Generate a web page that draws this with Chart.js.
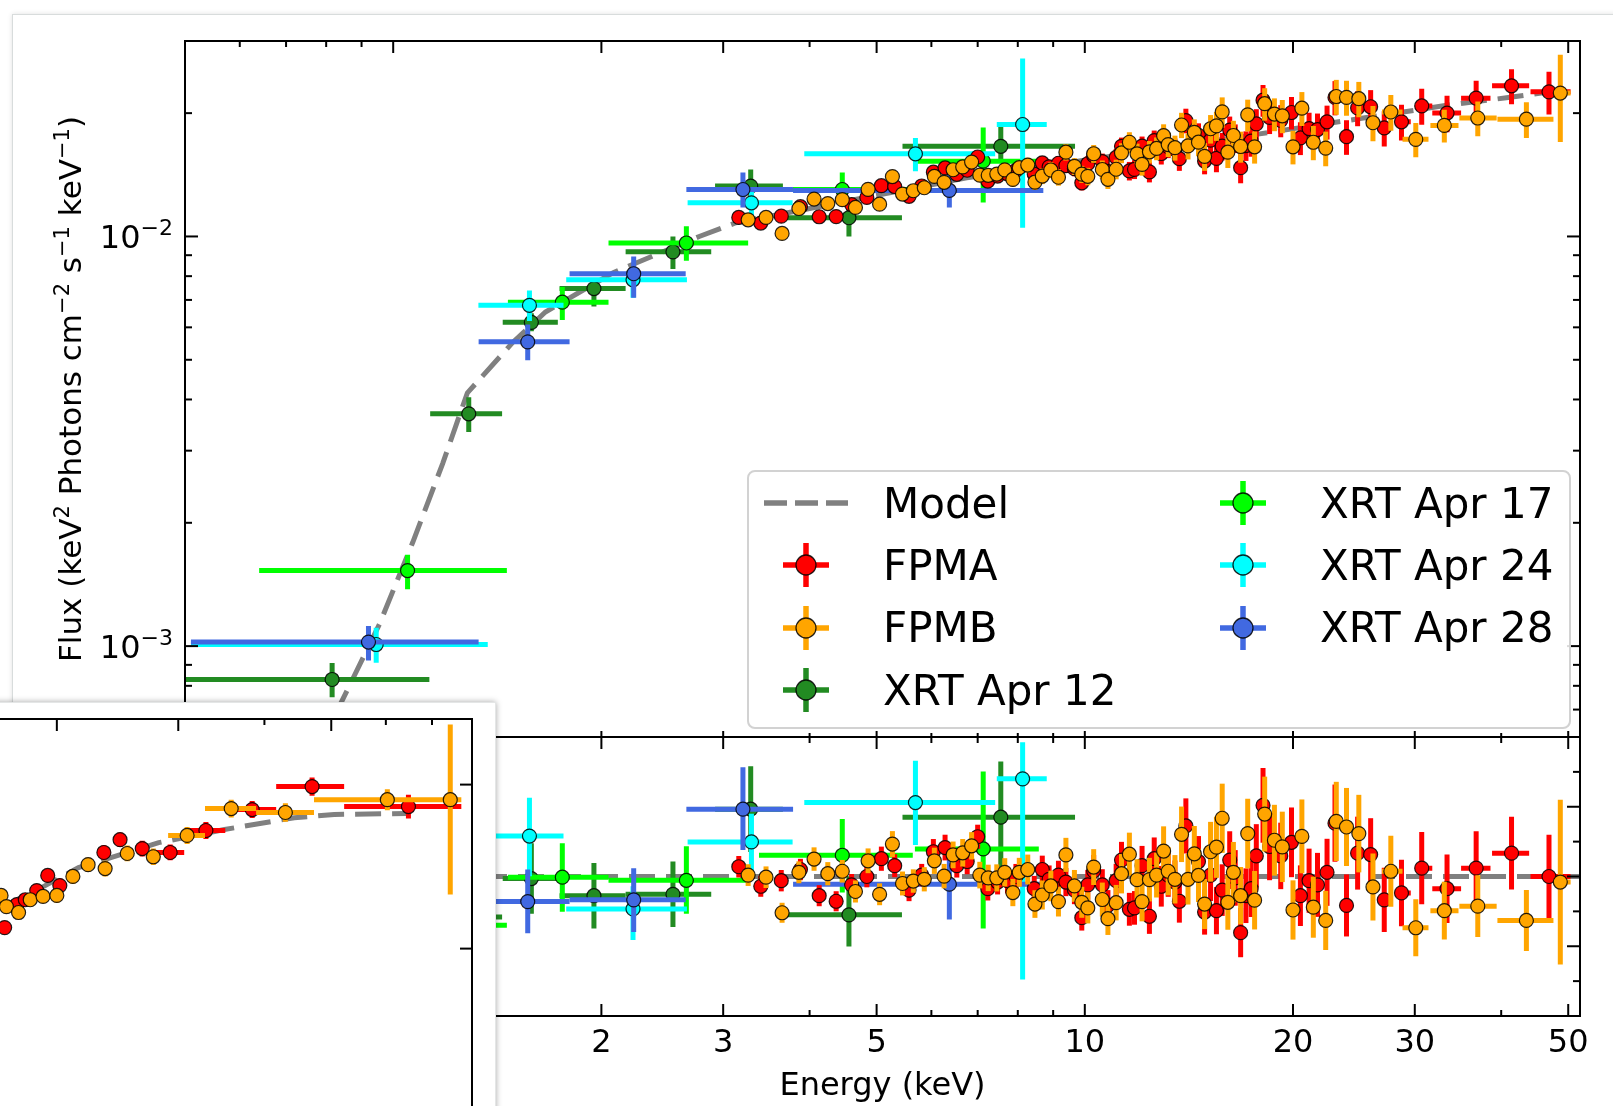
<!DOCTYPE html>
<html>
<head>
<meta charset="utf-8">
<script src="https://cdn.jsdelivr.net/npm/chart.js@4.4.1/dist/chart.umd.min.js"></script>
<style>
  html, body { margin: 0; padding: 0; width: 1613px; height: 1106px; overflow: hidden; background: #ffffff; }
  body { position: relative; font-family: "DejaVu Sans", sans-serif; }
  #win { position: absolute; left: 12px; top: 14px; width: 1660px; height: 1160px; background: #fff;
         border: 1px solid #d8dcdc; box-shadow: 0 0 5px rgba(0,0,0,0.12); }
  canvas { position: absolute; }
  #spec { left: 0; top: 0; z-index: 1; }
  #ratio { left: 0; top: 737px; z-index: 1; }
  #legend { position: absolute; left: 747px; top: 470px; width: 820px; height: 255px; z-index: 2;
            border: 2px solid #d2d2d2; border-radius: 8px; background: rgba(255,255,255,0.85); }
  .lg { position: absolute; z-index: 3; }
  .lgText { position: absolute; z-index: 3; font-size: 42px; line-height: 50px; color: #000; white-space: nowrap; }
  #inset { position: absolute; left: -400px; top: 702px; width: 894px; height: 520px; background: #fff; z-index: 5;
           border: 1px solid #e4e6e6; box-shadow: 0 0 6px rgba(0,0,0,0.35); }
  #insetChart { left: 140px; top: 1px; }
</style>
</head>
<body>
<div id="win"></div>
<canvas id="spec" width="1613" height="737"></canvas>
<canvas id="ratio" width="1613" height="369"></canvas>
<div id="legend"></div>
<div id="inset"><canvas id="insetChart" width="752" height="520"></canvas></div>

<script>
// ---- axis ticks ----
const xMajorTicks = [1, 2, 3, 5, 10, 20, 30, 50];
const xTickLabels = ['1', '2', '3', '5', '10', '20', '30', '50'];
const xMinorTicks = [0.5, 0.6, 0.7, 0.8, 0.9, 4, 6, 7, 8, 9, 40];
const fluxMajorTicks = [1e-3, 1e-2];
const fluxTickExponents = ['−3', '−2'];
const fluxMinorTicks = [6e-4, 7e-4, 8e-4, 9e-4, 2e-3, 3e-3, 4e-3, 5e-3, 6e-3, 7e-3, 8e-3, 9e-3, 2e-2, 3e-2];
const ratioMajorTicks = [0.8, 1.0, 1.2];
const ratioTickLabels = ['0.8', '1.0', '1.2'];
const ratioMinorTicks = [0.7, 0.9, 1.1, 1.3];

// y title as [text, isSuperscript] runs
const fluxTitleRuns = [['Flux (keV', false], ['2', true], [' Photons cm', false], ['−2', true],
  [' s', false], ['−1', true], [' keV', false], ['−1', true], [')', false]];

// ---- best-fit model ----
const modelEnergy = [0.70, 0.845, 0.955, 1.067, 1.179, 1.28, 1.49, 1.66, 2.08, 2.77, 3.13, 4.0, 5.0, 6.75, 10.0, 17.9, 25.0, 34.0, 40.7, 49.3];
const modelFlux = [3.9e-4, 7.4e-4, 1.13e-3, 1.79e-3, 2.79e-3, 4.15e-3, 5.52e-3, 6.54e-3, 8.16e-3, 1.0e-2, 1.08e-2, 1.17e-2, 1.26e-2, 1.39e-2, 1.535e-2, 1.78e-2, 1.94e-2, 2.1e-2, 2.18e-2, 2.28e-2];
const ratioModelEnergy = [0.5, 52];
const ratioModelValue = [1, 1];

// ---- NuSTAR FPMA ----
const fpmaEnergy = [3.16, 3.40, 3.64, 3.88, 4.13, 4.37, 4.60, 4.84, 5.08, 5.31,
  5.57, 5.81, 6.04, 6.28, 6.53, 6.76, 7.00, 7.24, 7.48, 7.73,
  7.95, 8.45, 8.68, 8.88, 9.16, 9.39, 9.66, 9.90, 10.1, 10.3,
  10.6, 10.8, 11.1, 11.3, 11.6, 11.8, 12.1, 12.4, 12.6, 12.9,
  13.2, 13.5, 13.7, 14.0, 14.6, 14.9, 15.2, 15.5, 15.8, 16.2,
  16.5, 16.8, 17.1, 17.4, 17.7, 18.1, 18.5, 19.2, 19.9, 20.5,
  21.1, 21.7, 22.4, 23.0, 23.9, 24.8, 25.9, 27.1, 28.7, 30.7,
  33.4, 36.8, 41.4, 46.9];
const fpmaFlux = [0.01113, 0.01078, 0.01121, 0.01182, 0.01117, 0.01118, 0.01196, 0.01245, 0.01330, 0.01324,
  0.01253, 0.01328, 0.01435, 0.01470, 0.01418, 0.01451, 0.01563, 0.01365, 0.01404, 0.01422,
  0.01449, 0.01420, 0.01512, 0.01479, 0.01509, 0.01489, 0.01464, 0.01352, 0.01505, 0.01575,
  0.01523, 0.01439, 0.01559, 0.01660, 0.01445, 0.01458, 0.01662, 0.01437, 0.01714, 0.01594,
  0.01656, 0.01631, 0.01548, 0.01918, 0.01765, 0.01528, 0.01718, 0.01551, 0.01661, 0.01818,
  0.01738, 0.01472, 0.01667, 0.01709, 0.01883, 0.02151, 0.01952, 0.01919, 0.02007, 0.01740,
  0.01834, 0.01824, 0.01905, 0.02185, 0.01752, 0.02060, 0.02073, 0.01840, 0.01905, 0.02083,
  0.02001, 0.02176, 0.02332, 0.02254];
const fpmaRatio = [1.028, 0.972, 0.988, 1.020, 0.945, 0.929, 0.976, 1.000, 1.051, 1.031,
  0.961, 1.004, 1.071, 1.083, 1.031, 1.043, 1.114, 0.965, 0.984, 0.988,
  1.000, 0.965, 1.020, 0.992, 1.004, 0.984, 0.961, 0.882, 0.976, 1.016,
  0.976, 0.917, 0.988, 1.047, 0.906, 0.910, 1.031, 0.886, 1.051, 0.972,
  1.004, 0.984, 0.929, 1.145, 1.043, 0.898, 1.004, 0.902, 0.961, 1.047,
  0.996, 0.839, 0.945, 0.965, 1.059, 1.204, 1.086, 1.059, 1.098, 0.945,
  0.988, 0.976, 1.012, 1.153, 0.917, 1.067, 1.063, 0.933, 0.953, 1.024,
  0.965, 1.024, 1.067, 1.000];
// relative 1-sigma errors
const fpmaRelErr = [0.030, 0.031, 0.031, 0.030, 0.032, 0.031, 0.032, 0.031, 0.033, 0.032,
  0.033, 0.032, 0.034, 0.034, 0.033, 0.035, 0.031, 0.035, 0.036, 0.037,
  0.036, 0.038, 0.039, 0.040, 0.041, 0.041, 0.042, 0.042, 0.044, 0.045,
  0.046, 0.048, 0.049, 0.050, 0.052, 0.053, 0.055, 0.057, 0.058, 0.060,
  0.062, 0.063, 0.066, 0.069, 0.070, 0.072, 0.074, 0.075, 0.077, 0.079,
  0.080, 0.084, 0.083, 0.084, 0.086, 0.089, 0.089, 0.090, 0.091, 0.092,
  0.093, 0.094, 0.095, 0.096, 0.097, 0.098, 0.098, 0.099, 0.100, 0.101,
  0.102, 0.103, 0.098, 0.120];
// energy bins wide enough to show, from point 68 on
const fpmaWideStart = 67;
const fpmaWideLo = [26.5, 28.1, 30.1, 31.8, 35.0, 38.8, 44.1];
const fpmaWideHi = [27.7, 29.6, 31.8, 35.0, 38.6, 43.9, 50.4];

// ---- NuSTAR FPMB ----
const fpmbEnergy = [3.26, 3.46, 3.65, 3.86, 4.06, 4.25, 4.46, 4.66, 4.86, 5.05,
  5.27, 5.45, 5.65, 5.86, 6.06, 6.26, 6.45, 6.66, 6.86, 7.05,
  7.25, 7.46, 7.66, 7.87, 8.04, 8.27, 8.47, 8.68, 8.93, 9.16,
  9.39, 9.66, 9.90, 10.1, 10.3, 10.6, 10.8, 11.1, 11.3, 11.6,
  11.9, 12.1, 12.4, 12.7, 13.0, 13.2, 13.5, 13.8, 14.1, 14.4,
  14.6, 14.9, 15.2, 15.5, 15.8, 16.1, 16.4, 16.8, 17.2, 17.6,
  18.2, 18.8, 19.3, 20.0, 20.6, 21.4, 22.3, 23.1, 23.9, 24.9,
  26.1, 27.7, 30.1, 33.1, 37.0, 43.5, 48.7];
const fpmbFlux = [0.01098, 0.01113, 0.01017, 0.01170, 0.01234, 0.01203, 0.01230, 0.01177, 0.01303, 0.01199,
  0.01400, 0.01269, 0.01293, 0.01315, 0.01401, 0.01356, 0.01455, 0.01478, 0.01519, 0.01411,
  0.01410, 0.01420, 0.01454, 0.01378, 0.01472, 0.01494, 0.01357, 0.01404, 0.01453, 0.01395,
  0.01606, 0.01483, 0.01419, 0.01402, 0.01592, 0.01457, 0.01379, 0.01459, 0.01599, 0.01698,
  0.01591, 0.01499, 0.01609, 0.01640, 0.01762, 0.01676, 0.01647, 0.01871, 0.01663, 0.01796,
  0.01699, 0.01568, 0.01832, 0.01862, 0.02014, 0.01606, 0.01764, 0.01658, 0.01981, 0.01655,
  0.02109, 0.01990, 0.01970, 0.01655, 0.02056, 0.01698, 0.01643, 0.02196, 0.02185, 0.02169,
  0.01895, 0.02013, 0.01726, 0.01867, 0.01946, 0.01933, 0.02239];
const fpmbRatio = [1.004, 0.998, 0.896, 1.012, 1.050, 1.008, 1.015, 0.957, 1.045, 0.949,
  1.093, 0.980, 0.987, 0.992, 1.045, 1.001, 1.062, 1.068, 1.088, 1.004,
  0.996, 0.996, 1.012, 0.954, 1.012, 1.020, 0.921, 0.947, 0.973, 0.928,
  1.062, 0.973, 0.926, 0.910, 1.027, 0.934, 0.879, 0.925, 1.008, 1.064,
  0.991, 0.928, 0.991, 1.004, 1.073, 1.015, 0.992, 1.121, 0.992, 1.065,
  1.003, 0.921, 1.071, 1.084, 1.167, 0.926, 1.012, 0.945, 1.123, 0.932,
  1.179, 1.104, 1.085, 0.904, 1.115, 0.912, 0.874, 1.158, 1.142, 1.123,
  0.970, 1.015, 0.853, 0.902, 0.915, 0.874, 0.984];
const fpmbRelErr = [0.031, 0.031, 0.032, 0.031, 0.032, 0.033, 0.032, 0.033, 0.034, 0.033,
  0.034, 0.035, 0.034, 0.035, 0.036, 0.035, 0.036, 0.037, 0.036, 0.038,
  0.038, 0.039, 0.040, 0.041, 0.041, 0.042, 0.043, 0.044, 0.045, 0.046,
  0.046, 0.047, 0.048, 0.049, 0.050, 0.052, 0.053, 0.055, 0.056, 0.058,
  0.059, 0.061, 0.063, 0.064, 0.066, 0.068, 0.070, 0.071, 0.073, 0.075,
  0.076, 0.078, 0.080, 0.081, 0.085, 0.085, 0.086, 0.087, 0.089, 0.090,
  0.091, 0.092, 0.093, 0.094, 0.095, 0.096, 0.097, 0.098, 0.098, 0.099,
  0.099, 0.100, 0.096, 0.092, 0.097, 0.100, 0.240];
const fpmbWideStart = 70;
const fpmbWideLo = [25.6, 26.9, 28.8, 31.6, 34.8, 39.5, 47.6];
const fpmbWideHi = [26.7, 28.8, 31.4, 34.7, 39.4, 47.6, 50.4];

// ---- Swift XRT, Apr 12 ----
const xrt12Energy = [0.816, 1.286, 1.584, 1.951, 2.538, 3.288, 4.56, 7.56];
const xrt12ELo = [0.50, 1.131, 1.440, 1.740, 2.168, 2.92, 3.68, 5.45];
const xrt12EHi = [1.128, 1.437, 1.730, 2.168, 2.883, 3.66, 5.44, 9.68];
const xrt12Flux = [8.29e-4, 3.69e-3, 6.17e-3, 7.46e-3, 9.17e-3, 1.327e-2, 1.111e-2, 1.66e-2];
const xrt12FluxLo = [7.5e-4, 3.33e-3, 5.87e-3, 6.75e-3, 8.33e-3, 1.23e-2, 1.0e-2, 1.527e-2];
const xrt12FluxHi = [9.09e-4, 4.05e-3, 6.49e-3, 7.92e-3, 1.0e-2, 1.457e-2, 1.197e-2, 1.858e-2];
const xrt12Ratio = [0.97, 0.884, 0.994, 0.945, 0.949, 1.193, 0.89, 1.17];
const xrt12RatioLo = [0.88, 0.80, 0.893, 0.851, 0.855, 1.07, 0.799, 1.011];
const xrt12RatioHi = [1.06, 0.97, 1.095, 1.039, 1.043, 1.316, 1.001, 1.33];

// ---- Swift XRT, Apr 17 ----
const xrt17Energy = [1.049, 1.756, 2.654, 4.46, 7.13];
const xrt17ELo = [0.640, 1.465, 2.048, 3.38, 5.68];
const xrt17EHi = [1.460, 2.048, 3.26, 5.64, 8.58];
const xrt17Flux = [1.529e-3, 6.91e-3, 9.64e-3, 1.302e-2, 1.527e-2];
const xrt17FluxLo = [1.377e-3, 6.25e-3, 8.72e-3, 1.186e-2, 1.21e-2];
const xrt17FluxHi = [1.672e-3, 7.53e-3, 1.059e-2, 1.432e-2, 1.845e-2];
const xrt17Ratio = [0.86, 0.998, 0.989, 1.061, 1.079];
const xrt17RatioLo = [0.77, 0.899, 0.893, 0.954, 0.851];
const xrt17RatioHi = [0.95, 1.095, 1.087, 1.165, 1.301];

// ---- Swift XRT, Apr 24 ----
const xrt24Energy = [0.945, 1.574, 2.222, 3.296, 5.69, 8.13];
const xrt24ELo = [0.510, 1.328, 1.779, 2.665, 3.93, 7.46];
const xrt24EHi = [1.370, 1.763, 2.659, 3.78, 7.42, 8.81];
const xrt24Flux = [1.009e-3, 6.79e-3, 7.84e-3, 1.208e-2, 1.591e-2, 1.876e-2];
const xrt24FluxLo = [9.11e-4, 6.22e-3, 7.09e-3, 1.10e-2, 1.443e-2, 1.05e-2];
const xrt24FluxHi = [1.109e-3, 7.38e-3, 8.41e-3, 1.302e-2, 1.74e-2, 2.72e-2];
const xrt24Ratio = [0.93, 1.116, 0.907, 1.099, 1.212, 1.28];
const xrt24RatioLo = [0.84, 1.001, 0.818, 1.015, 1.09, 0.705];
const xrt24RatioHi = [1.02, 1.226, 0.972, 1.18, 1.332, 1.385];

// ---- Swift XRT, Apr 28 ----
const xrt28Energy = [0.921, 1.565, 2.227, 3.204, 6.37];
const xrt28ELo = [0.510, 1.329, 1.799, 2.654, 3.786];
const xrt28EHi = [1.329, 1.799, 2.648, 3.786, 8.71];
const xrt28Flux = [1.023e-3, 5.53e-3, 8.11e-3, 1.302e-2, 1.295e-2];
const xrt28FluxLo = [9.22e-4, 4.99e-3, 7.09e-3, 1.177e-2, 1.176e-2];
const xrt28FluxHi = [1.12e-3, 6.10e-3, 8.94e-3, 1.432e-2, 1.43e-2];
const xrt28Ratio = [1.0, 0.928, 0.933, 1.193, 0.978];
const xrt28RatioLo = [0.91, 0.837, 0.841, 1.076, 0.877];
const xrt28RatioHi = [1.09, 1.02, 1.024, 1.313, 1.057];

// ---- zoomed window: hard band spectrum ----
const insetXMajor = [10, 20, 30, 50];
const insetXMinor = [9, 40, 60, 70, 80];
const insetYMajor = [0.010, 0.015, 0.020];
const insetModelEnergy = [16.6, 19.0, 21.5, 28.1, 35.0, 44.2, 50.5, 64.2];
const insetModelFlux = [0.01625, 0.01686, 0.01747, 0.01823, 0.01863, 0.01899, 0.01909, 0.01912];
const insetFpmaEnergy = [16.8, 17.5, 18.0, 18.7, 19.4, 20.2, 23.4, 24.7, 26.6, 29.2, 32.9, 38.4, 46.9, 64.7];
const insetFpmaFlux = [0.01564, 0.01634, 0.01649, 0.01677, 0.01723, 0.01692, 0.01793, 0.01832, 0.01805, 0.01793, 0.01860, 0.01924, 0.01994, 0.01933];
const insetFpmaErr = [0.0002, 0.0002, 0.0002, 0.0002, 0.0002, 0.00022, 0.00022, 0.00022, 0.00024, 0.00024, 0.00026, 0.00026, 0.00028, 0.00036];
const insetFpmaELo = [null, null, null, null, null, null, null, null, null, 27.6, 31.0, 35.8, 41.6, 52.2];
const insetFpmaEHi = [null, null, null, null, null, null, null, null, null, 30.6, 35.1, 41.6, 52.2, 77.2];
const insetFpmbEnergy = [16.6, 16.9, 17.6, 18.3, 19.1, 20.0, 21.1, 22.2, 23.5, 25.3, 27.6, 30.9, 35.8, 42.9, 60.3, 74.4];
const insetFpmbFlux = [0.01662, 0.01628, 0.01610, 0.01649, 0.01659, 0.01662, 0.01720, 0.01756, 0.01744, 0.01790, 0.01780, 0.01845, 0.01927, 0.01915, 0.01954, 0.01954];
const insetFpmbErrLo = [0.0002, 0.0002, 0.0002, 0.0002, 0.0002, 0.00022, 0.00022, 0.00022, 0.00024, 0.00024, 0.00025, 0.00026, 0.00027, 0.00028, 0.00032, 0.00289];
const insetFpmbErrHi = [0.0002, 0.0002, 0.0002, 0.0002, 0.0002, 0.00022, 0.00022, 0.00022, 0.00024, 0.00024, 0.00025, 0.00026, 0.00027, 0.00028, 0.00032, 0.00229];
const insetFpmbELo = [null, null, null, null, null, null, null, null, null, null, null, 29.0, 32.8, 38.9, 47.2, 74.2];
const insetFpmbEHi = [null, null, null, null, null, null, null, null, null, null, null, 32.8, 38.9, 47.2, 74.2, 77.2];

const legendLabels = ['Model', 'FPMA', 'FPMB', 'XRT Apr 12', 'XRT Apr 17', 'XRT Apr 24', 'XRT Apr 28'];

const COLORS = {
  model: '#808080', fpma: '#ff0000', fpmb: '#ffa500',
  xrt12: '#228b22', xrt17: '#00ff00', xrt24: '#00ffff', xrt28: '#4169e1'
};
const FONT = '"DejaVu Sans", sans-serif';
Chart.defaults.font.family = FONT;
Chart.defaults.color = '#000';

// build point objects carrying their own error extents
function points(xs, ys, xLo, xHi, yLo, yHi) {
  return xs.map((x, i) => ({
    x, y: ys[i],
    xMin: xLo ? xLo[i] : null, xMax: xHi ? xHi[i] : null,
    yMin: yLo ? yLo[i] : null, yMax: yHi ? yHi[i] : null
  }));
}
function wideBins(n, start, lo, hi) {
  const a = new Array(n).fill(null), b = new Array(n).fill(null);
  lo.forEach((v, k) => { a[start + k] = v; b[start + k] = hi[k]; });
  return [a, b];
}
const [fpmaBinLo, fpmaBinHi] = wideBins(fpmaEnergy.length, fpmaWideStart, fpmaWideLo, fpmaWideHi);
const [fpmbBinLo, fpmbBinHi] = wideBins(fpmbEnergy.length, fpmbWideStart, fpmbWideLo, fpmbWideHi);

function markerSet(label, color, data, order) {
  return {
    label, data, order, errorBars: true,
    backgroundColor: color, pointBackgroundColor: color,
    pointBorderColor: 'rgba(0,0,0,0.85)', pointBorderWidth: 1.2,
    pointRadius: 7, pointHoverRadius: 7, showLine: false
  };
}
function modelSet(xs, ys) {
  return {
    label: 'Model', data: points(xs, ys), order: 10, showLine: true,
    borderColor: COLORS.model, borderWidth: 5, borderDash: [26, 11],
    pointRadius: 0, fill: false, tension: 0
  };
}

// error bars drawn just before each dataset's markers
const errorBarPlugin = {
  id: 'errorBars',
  beforeDatasetDraw(chart, args) {
    const ds = chart.data.datasets[args.index];
    if (!ds.errorBars) return;
    const { ctx, chartArea: a } = chart;
    const xs = chart.scales.x, ys = chart.scales.y;
    ctx.save();
    ctx.beginPath();
    ctx.rect(a.left, a.top, a.right - a.left, a.bottom - a.top);
    ctx.clip();
    ctx.strokeStyle = ds.backgroundColor;
    ctx.lineWidth = 5;
    ctx.lineCap = 'butt';
    ds.data.forEach(p => {
      const px = xs.getPixelForValue(p.x), py = ys.getPixelForValue(p.y);
      ctx.beginPath();
      if (p.xMin != null && p.xMax != null) {
        ctx.moveTo(xs.getPixelForValue(p.xMin), py);
        ctx.lineTo(xs.getPixelForValue(p.xMax), py);
      }
      if (p.yMin != null && p.yMax != null) {
        ctx.moveTo(px, ys.getPixelForValue(p.yMin));
        ctx.lineTo(px, ys.getPixelForValue(p.yMax));
      }
      ctx.stroke();
    });
    ctx.restore();
  }
};

// axes frame with inward major / minor ticks
const frameTicksPlugin = {
  id: 'frameTicks',
  afterDraw(chart, args, o) {
    const { ctx, chartArea: a, scales } = chart;
    const xs = scales.x, ys = scales.y;
    ctx.save();
    ctx.strokeStyle = '#000';
    ctx.lineWidth = 2;
    const seg = (x1, y1, x2, y2) => { ctx.beginPath(); ctx.moveTo(x1, y1); ctx.lineTo(x2, y2); ctx.stroke(); };
    [[o.xMajor, 0], [o.xMinor, 1]].forEach(([vals, k]) => (vals || []).forEach(v => {
      const px = xs.getPixelForValue(v);
      if (!(px >= a.left - 1 && px <= a.right + 1)) return;
      if (o.top) seg(px, a.top, px, a.top + o.top[k]);
      if (o.bottom) seg(px, a.bottom, px, a.bottom - o.bottom[k]);
    }));
    [[o.yMajor, 0], [o.yMinor, 1]].forEach(([vals, k]) => (vals || []).forEach(v => {
      const py = ys.getPixelForValue(v);
      if (!(py >= a.top - 1 && py <= a.bottom + 1)) return;
      if (o.left) seg(a.left, py, a.left + o.left[k], py);
      if (o.right) seg(a.right, py, a.right - o.right[k], py);
    }));
    ctx.strokeRect(a.left, a.top, a.right - a.left, a.bottom - a.top);
    ctx.restore();
  }
};

// power-of-ten tick labels and the flux title, with raised exponents
const mathLabelsPlugin = {
  id: 'mathLabels',
  afterDraw(chart, args, o) {
    if (!o.enabled) return;
    const { ctx, chartArea: a, scales } = chart;
    const base = 32, sup = 22;
    ctx.save();
    ctx.fillStyle = '#000';
    ctx.textBaseline = 'alphabetic';
    fluxMajorTicks.forEach((v, i) => {
      const py = scales.y.getPixelForValue(v);
      ctx.font = `${base}px ${FONT}`;
      const wb = ctx.measureText('10').width;
      ctx.font = `${sup}px ${FONT}`;
      const we = ctx.measureText(fluxTickExponents[i]).width;
      const right = a.left - 12, x0 = right - we - wb, baseY = py + 12;
      ctx.font = `${base}px ${FONT}`;
      ctx.fillText('10', x0, baseY);
      ctx.font = `${sup}px ${FONT}`;
      ctx.fillText(fluxTickExponents[i], x0 + wb, baseY - 13);
    });
    // rotated axis title
    const tBase = 31, tSup = 21;
    const widths = fluxTitleRuns.map(([t, s]) => { ctx.font = `${s ? tSup : tBase}px ${FONT}`; return ctx.measureText(t).width; });
    const total = widths.reduce((p, w) => p + w, 0);
    ctx.translate(81, (a.top + a.bottom) / 2);
    ctx.rotate(-Math.PI / 2);
    let x = -total / 2;
    fluxTitleRuns.forEach(([t, s], k) => {
      ctx.font = `${s ? tSup : tBase}px ${FONT}`;
      ctx.fillText(t, x, s ? -12 : 0);
      x += widths[k];
    });
    ctx.restore();
  }
};
Chart.register(errorBarPlugin, frameTicksPlugin, mathLabelsPlugin);

const baseOptions = {
  responsive: false, animation: false, events: [],
  plugins: { legend: { display: false }, tooltip: { enabled: false } }
};

function fixedLeftAxis(width) {
  return s => { s.width = width; s.paddingTop = 0; s.paddingBottom = 0; };
}

// ---------- upper panel: unfolded spectrum ----------
new Chart(document.getElementById('spec'), {
  type: 'scatter',
  data: {
    datasets: [
      modelSet(modelEnergy, modelFlux),
      markerSet('XRT Apr 12', COLORS.xrt12, points(xrt12Energy, xrt12Flux, xrt12ELo, xrt12EHi, xrt12FluxLo, xrt12FluxHi), 6),
      markerSet('XRT Apr 17', COLORS.xrt17, points(xrt17Energy, xrt17Flux, xrt17ELo, xrt17EHi, xrt17FluxLo, xrt17FluxHi), 5),
      markerSet('XRT Apr 24', COLORS.xrt24, points(xrt24Energy, xrt24Flux, xrt24ELo, xrt24EHi, xrt24FluxLo, xrt24FluxHi), 4),
      markerSet('XRT Apr 28', COLORS.xrt28, points(xrt28Energy, xrt28Flux, xrt28ELo, xrt28EHi, xrt28FluxLo, xrt28FluxHi), 3),
      markerSet('FPMA', COLORS.fpma, points(fpmaEnergy, fpmaFlux, fpmaBinLo, fpmaBinHi,
        fpmaFlux.map((f, i) => f * (1 - fpmaRelErr[i])), fpmaFlux.map((f, i) => f * (1 + fpmaRelErr[i]))), 2),
      markerSet('FPMB', COLORS.fpmb, points(fpmbEnergy, fpmbFlux, fpmbBinLo, fpmbBinHi,
        fpmbFlux.map((f, i) => f * (1 - fpmbRelErr[i])), fpmbFlux.map((f, i) => f * (1 + fpmbRelErr[i]))), 1)
    ]
  },
  options: {
    ...baseOptions,
    layout: { padding: { top: 41, right: 33, bottom: 0, left: 0 }, autoPadding: false },
    plugins: {
      ...baseOptions.plugins,
      mathLabels: { enabled: true },
      frameTicks: { xMajor: xMajorTicks, xMinor: xMinorTicks, top: [12, 6], bottom: [6, 4],
                    yMajor: fluxMajorTicks, yMinor: fluxMinorTicks, left: [13, 7], right: [13, 7] }
    },
    scales: {
      x: { type: 'logarithmic', min: 0.5, max: 52, display: false },
      y: {
        type: 'logarithmic', min: 6e-4, max: 3e-2, position: 'left',
        grid: { display: false, drawTicks: false }, border: { display: false },
        afterBuildTicks: s => { s.ticks = fluxMajorTicks.map(v => ({ value: v })); },
        afterFit: fixedLeftAxis(185),
        ticks: { display: false }
      }
    }
  }
});

// ---------- lower panel: data / model ----------
new Chart(document.getElementById('ratio'), {
  type: 'scatter',
  data: {
    datasets: [
      modelSet(ratioModelEnergy, ratioModelValue),
      markerSet('XRT Apr 12', COLORS.xrt12, points(xrt12Energy, xrt12Ratio, xrt12ELo, xrt12EHi, xrt12RatioLo, xrt12RatioHi), 6),
      markerSet('XRT Apr 17', COLORS.xrt17, points(xrt17Energy, xrt17Ratio, xrt17ELo, xrt17EHi, xrt17RatioLo, xrt17RatioHi), 5),
      markerSet('XRT Apr 24', COLORS.xrt24, points(xrt24Energy, xrt24Ratio, xrt24ELo, xrt24EHi, xrt24RatioLo, xrt24RatioHi), 4),
      markerSet('XRT Apr 28', COLORS.xrt28, points(xrt28Energy, xrt28Ratio, xrt28ELo, xrt28EHi, xrt28RatioLo, xrt28RatioHi), 3),
      markerSet('FPMA', COLORS.fpma, points(fpmaEnergy, fpmaRatio, fpmaBinLo, fpmaBinHi,
        fpmaRatio.map((r, i) => r * (1 - fpmaRelErr[i])), fpmaRatio.map((r, i) => r * (1 + fpmaRelErr[i]))), 2),
      markerSet('FPMB', COLORS.fpmb, points(fpmbEnergy, fpmbRatio, fpmbBinLo, fpmbBinHi,
        fpmbRatio.map((r, i) => r * (1 - fpmbRelErr[i])), fpmbRatio.map((r, i) => r * (1 + fpmbRelErr[i]))), 1)
    ]
  },
  options: {
    ...baseOptions,
    layout: { padding: { top: 0, right: 33, bottom: 0, left: 0 }, autoPadding: false },
    plugins: {
      ...baseOptions.plugins,
      frameTicks: { xMajor: xMajorTicks, xMinor: xMinorTicks, top: [12, 6], bottom: [12, 6],
                    yMajor: ratioMajorTicks, yMinor: ratioMinorTicks, left: [13, 7], right: [13, 7] }
    },
    scales: {
      x: {
        type: 'logarithmic', min: 0.5, max: 52, position: 'bottom',
        grid: { display: false, drawTicks: false }, border: { display: false },
        afterBuildTicks: s => { s.ticks = xMajorTicks.map(v => ({ value: v })); },
        afterFit: s => { s.height = 90; s.paddingLeft = 0; s.paddingRight = 0; },
        ticks: { padding: 8, autoSkip: false, maxRotation: 0, font: { size: 32 }, color: '#000',
                 callback: (v, i) => xTickLabels[i] },
        title: { display: true, text: 'Energy (keV)', color: '#000', font: { size: 32 },
                 padding: { top: 0, bottom: 0 } }
      },
      y: {
        type: 'linear', min: 0.6, max: 1.4, position: 'left',
        grid: { display: false, drawTicks: false }, border: { display: false },
        afterBuildTicks: s => { s.ticks = ratioMajorTicks.map(v => ({ value: v })); },
        afterFit: fixedLeftAxis(185),
        ticks: { padding: 15, autoSkip: false, font: { size: 32 }, color: '#000',
                 callback: (v, i) => ratioTickLabels[i] }
      }
    }
  }
});

// ---------- legend ----------
(function buildLegend() {
  const colors = [COLORS.model, COLORS.fpma, COLORS.fpmb, COLORS.xrt12, COLORS.xrt17, COLORS.xrt24, COLORS.xrt28];
  const handleX = [806, 1243], textX = [883, 1320];
  let html = '';
  legendLabels.forEach((label, i) => {
    const col = i < 4 ? 0 : 1, row = i < 4 ? i : i - 4;
    const cy = 503 + row * 62.3;
    if (i === 0) {
      html += `<svg class="lg" width="92" height="20" style="left:${handleX[col] - 46}px;top:${cy - 10}px">` +
        `<line x1="4" y1="10" x2="88" y2="10" stroke="${colors[i]}" stroke-width="5.5" stroke-dasharray="23 8"/></svg>`;
    } else {
      html += `<svg class="lg" width="60" height="50" style="left:${handleX[col] - 30}px;top:${cy - 25}px">` +
        `<line x1="30" y1="3" x2="30" y2="47" stroke="${colors[i]}" stroke-width="5.5"/>` +
        `<line x1="7" y1="25" x2="53" y2="25" stroke="${colors[i]}" stroke-width="5.5"/>` +
        `<circle cx="30" cy="25" r="10" fill="${colors[i]}" stroke="rgba(0,0,0,0.85)" stroke-width="1.3"/></svg>`;
    }
    html += `<div class="lgText" style="left:${textX[col]}px;top:${(cy - 24.3).toFixed(1)}px">${label}</div>`;
  });
  document.body.insertAdjacentHTML('beforeend', html);
})();

// ---------- zoomed window ----------
new Chart(document.getElementById('insetChart'), {
  type: 'scatter',
  data: {
    datasets: [
      modelSet(insetModelEnergy, insetModelFlux),
      markerSet('FPMA', COLORS.fpma, points(insetFpmaEnergy, insetFpmaFlux, insetFpmaELo, insetFpmaEHi,
        insetFpmaFlux.map((f, i) => f - insetFpmaErr[i]), insetFpmaFlux.map((f, i) => f + insetFpmaErr[i])), 2),
      markerSet('FPMB', COLORS.fpmb, points(insetFpmbEnergy, insetFpmbFlux, insetFpmbELo, insetFpmbEHi,
        insetFpmbFlux.map((f, i) => f - insetFpmbErrLo[i]), insetFpmbFlux.map((f, i) => f + insetFpmbErrHi[i])), 1)
    ]
  },
  options: {
    ...baseOptions,
    layout: { padding: { top: 15, right: 21, bottom: 45.8, left: 59.6 }, autoPadding: false },
    plugins: {
      ...baseOptions.plugins,
      frameTicks: { xMajor: insetXMajor, xMinor: insetXMinor, top: [12, 6], bottom: [12, 6],
                    yMajor: insetYMajor, yMinor: [], left: [12, 6], right: [12, 6] }
    },
    scales: {
      x: { type: 'logarithmic', min: 8.5, max: 80, display: false },
      y: { type: 'linear', min: 0.008, max: 0.022, display: false }
    }
  }
});
</script>
</body>
</html>
